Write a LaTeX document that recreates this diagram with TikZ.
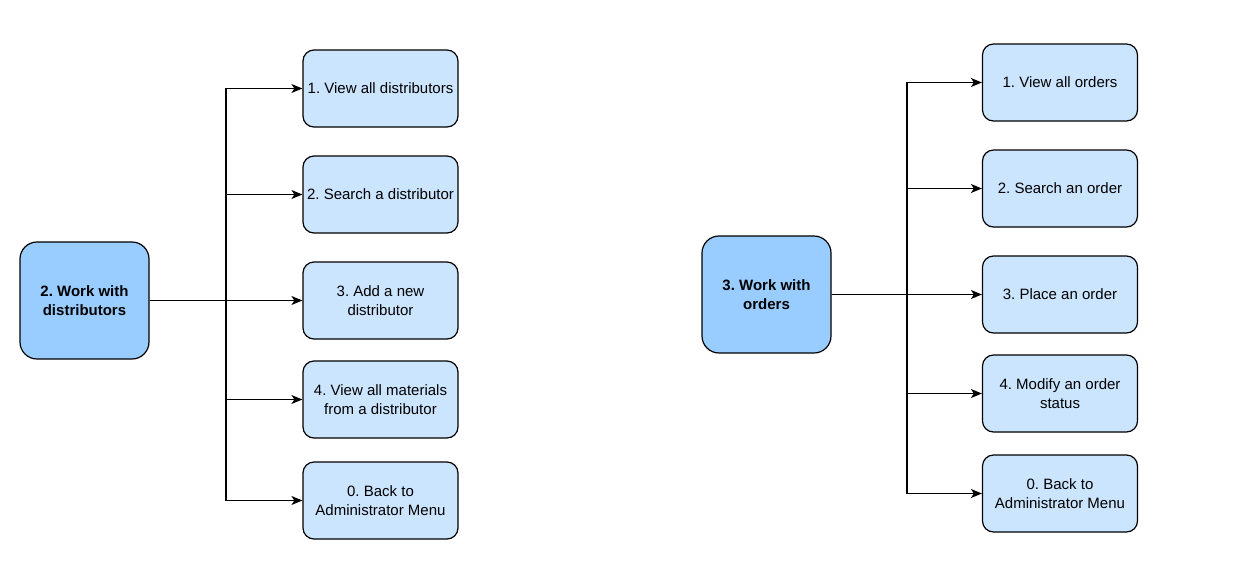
\documentclass[tikz,border=0pt]{standalone}
\usepackage{fontspec}
\setmainfont{Liberation Sans}
\usetikzlibrary{arrows.meta}
\definecolor{childfill}{HTML}{CCE5FF}
\definecolor{mainfill}{HTML}{99CCFF}
\frenchspacing
\begin{document}
\begin{tikzpicture}[x=1pt,y=-1pt,
  mainbox/.style={draw=black,line width=1.2pt,fill=mainfill,rounded corners=17pt,
    minimum width=129pt,minimum height=117pt,inner sep=0pt,align=center,
    font=\fontsize{15}{18.5}\selectfont\bfseries},
  childbox/.style={draw=black,line width=1.2pt,fill=childfill,rounded corners=11pt,
    minimum width=155pt,minimum height=77pt,inner sep=0pt,align=center,
    font=\fontsize{15}{18.5}\selectfont},
  conn/.style={draw=black,line width=1.2pt,-{Stealth[length=11pt,width=9pt,inset=3pt]}}]
\useasboundingbox (0,0) rectangle (1235,574);
\fill[white] (0,0) rectangle (1235,574);
% left group
\node[mainbox] (m1) at (84.5,300.5) {2. Work with\\distributors};
\node[childbox] (a1) at (380.5,88.5) {1. View all distributors};
\node[childbox] (a2) at (380.5,194.5) {2. Search a distributor};
\node[childbox] (a3) at (380.5,300.5) {3. Add a new\\distributor};
\node[childbox] (a4) at (380.5,399.5) {4. View all materials\\from a distributor};
\node[childbox] (a5) at (380.5,500.5) {0. Back to\\Administrator Menu};
\coordinate (t1) at (226,300.5);
\foreach \c in {a1,a2,a3,a4,a5} \draw[conn] (m1.east) -| (t1) |- (\c.west);
% right group
\node[mainbox] (m2) at (766.5,294.5) {3. Work with\\orders};
\node[childbox] (b1) at (1060,82.5) {1. View all orders};
\node[childbox] (b2) at (1060,188.5) {2. Search an order};
\node[childbox] (b3) at (1060,294.5) {3. Place an order};
\node[childbox] (b4) at (1060,393.5) {4. Modify an order\\status};
\node[childbox] (b5) at (1060,493.5) {0. Back to\\Administrator Menu};
\coordinate (t2) at (907,294.5);
\foreach \c in {b1,b2,b3,b4,b5} \draw[conn] (m2.east) -| (t2) |- (\c.west);
\end{tikzpicture}
\end{document}
